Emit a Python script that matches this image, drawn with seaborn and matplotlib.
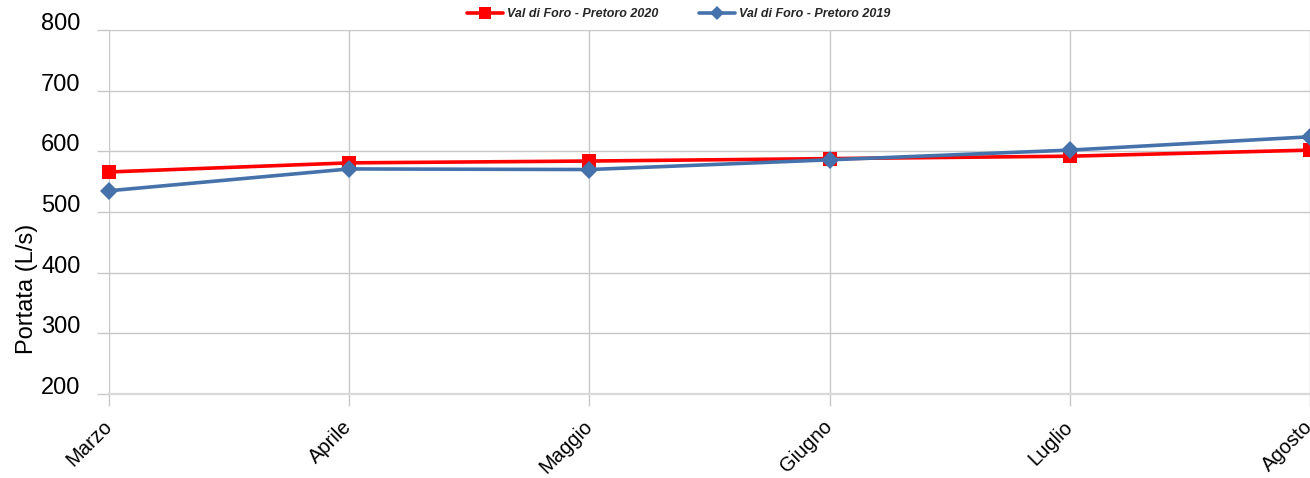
import pandas as pd
import matplotlib
matplotlib.use('Agg')
import matplotlib.pyplot as plt
import seaborn as sns

# data
mesi = ['Marzo', 'Aprile', 'Maggio', 'Giugno', 'Luglio', 'Agosto']
portata_2020 = [566, 581, 584, 588, 592, 602]
portata_2019 = [535, 571, 570, 586, 602, 624]
serie_2020 = 'Val di Foro - Pretoro 2020'
serie_2019 = 'Val di Foro - Pretoro 2019'

df = pd.DataFrame({
    'mese': mesi * 2,
    'portata': portata_2020 + portata_2019,
    'serie': [serie_2020] * len(mesi) + [serie_2019] * len(mesi),
})

sns.set_style('white')
plt.rcParams['font.family'] = ['Liberation Sans', 'DejaVu Sans']

fig = plt.figure(figsize=(13.1, 4.78), dpi=100)
ax = fig.add_axes([109 / 1310, 1 - 394 / 478, 1 - 109 / 1310, (394 - 30) / 478])

palette = {serie_2020: '#FF0000', serie_2019: '#4672AB'}
sns.lineplot(data=df, x='mese', y='portata', hue='serie', style='serie',
             markers={serie_2020: 's', serie_2019: 'D'}, dashes=False,
             palette=palette, sort=False, linewidth=2.6, ax=ax,
             markeredgewidth=0, legend=True)
for line in ax.lines:
    line.set_clip_on(False)
    if line.get_marker() == 's':
        line.set_markersize(10)
    else:
        line.set_markersize(9)

ax.set_xlim(0, len(mesi) - 1)
ax.set_ylim(200, 800)
ax.set_yticks([200, 300, 400, 500, 600, 700, 800])
for s in ax.spines.values():
    s.set_visible(False)
ax.spines['bottom'].set_visible(True)
ax.spines['bottom'].set_color('#d9d9d9')
ax.spines['bottom'].set_linewidth(1.6)
ax.grid(True, color='#c8c8c8', linewidth=1)
ax.tick_params(axis='both', bottom=True, left=True, length=8.5, color='#c8c8c8', width=1)
ax.tick_params(axis='y', labelsize=17, pad=12, labelcolor='black')
ax.tick_params(axis='x', labelsize=14.5, pad=13, labelcolor='black')
for lbl in ax.get_yticklabels():
    lbl.set_verticalalignment('baseline')
plt.setp(ax.get_xticklabels(), rotation=45, ha='right', va='center', rotation_mode='anchor')

ax.set_xlabel('')
ax.set_ylabel('Portata (L/s)', fontsize=17, color='black')
ax.yaxis.set_label_coords(-0.059, 0.29)

handles, labels = ax.get_legend_handles_labels()
ax.get_legend().remove()
fig.legend(handles, labels, loc='center', bbox_to_anchor=(0.518, 0.97), ncol=2,
           frameon=False, prop={'size': 9, 'weight': 'bold', 'style': 'italic'},
           handlelength=2.9, columnspacing=3.2, handletextpad=0.3, markerscale=0.8)

fig.savefig('out.png', dpi=100)
